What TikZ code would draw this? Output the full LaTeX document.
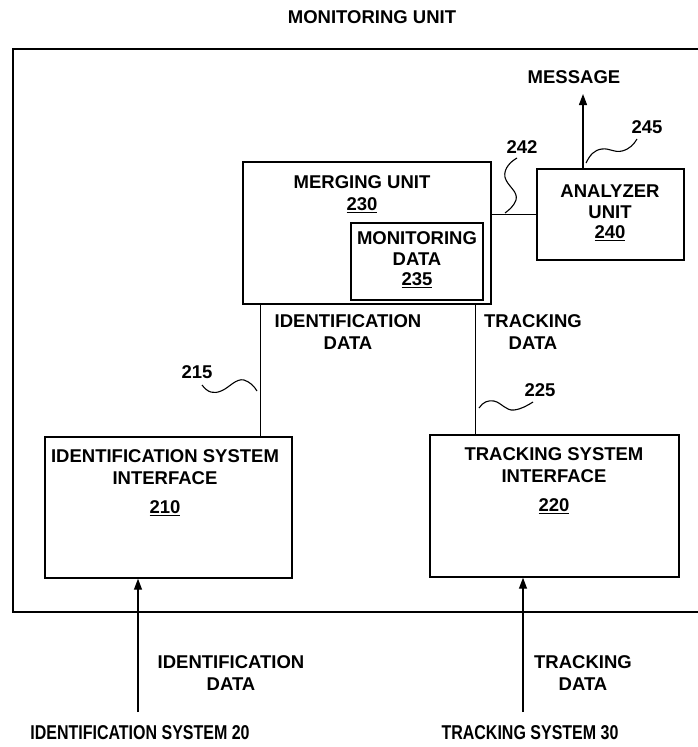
\documentclass[tikz,border=0pt]{standalone}
\usepackage{fontspec}
\setmainfont{Liberation Sans}
\newfontfamily\narrowsans[FakeStretch=0.8]{Liberation Sans}
\usetikzlibrary{arrows.meta}

\tikzset{
  block/.style={draw, line width=1.4pt, inner sep=0pt},
  lbl/.style={font=\bfseries\fontsize{18.5}{22}\selectfont, align=center, inner sep=1pt},
  narrowlbl/.style={lbl, font=\narrowsans\bfseries\fontsize{20}{24}\selectfont},
  link/.style={line width=1.3pt},
  leader/.style={line width=1.1pt},
  flow/.style={line width=1.3pt, -{Triangle[length=11pt,width=8pt]}},
}

\begin{document}
\begin{tikzpicture}[x=1pt, y=-1pt]
    \useasboundingbox (0,0) rectangle (698,747);

    % monitoring unit frame (open to the right)
    \node[lbl] (title) at (372,17) {MONITORING UNIT};
    \draw[line width=1.5pt] (698,49) -- (13,49) -- (13,612) -- (698,612);

    % merging unit with its monitoring data
    \node[block, minimum width=248pt, minimum height=142pt] (merge) at (367,233) {};
    \node[lbl] (mergetxt) at (362,194) {MERGING UNIT\\\underline{230}};
    \node[block, minimum width=132pt, minimum height=77pt] (mondata) at (417,261.5) {};
    \node[lbl, font=\bfseries\fontsize{18.5}{20.5}\selectfont] at (417,260) {MONITORING\\DATA\\\underline{235}};

    % analyzer unit
    \node[block, minimum width=147pt, minimum height=91pt] (analyzer) at (610.5,214.5) {};
    \node[lbl, font=\bfseries\fontsize{18.5}{20.5}\selectfont] at (610,213) {ANALYZER\\UNIT\\\underline{240}};
    \draw[link] (merge.east |- analyzer.west) -- (analyzer.west);

    % message out
    \node[lbl] (msg) at (574,77) {MESSAGE};
    \coordinate (msgtip) at (583,94);
    \draw[flow] (analyzer.north -| msgtip) -- (msgtip);

    % interfaces
    \node[block, minimum width=247pt, minimum height=141pt] (idif) at (168.5,507.5) {};
    \node[lbl] at (165,483) {IDENTIFICATION SYSTEM\\INTERFACE\\[7pt]\underline{210}};
    \node[block, minimum width=249pt, minimum height=142pt] (trif) at (554.5,506) {};
    \node[lbl] at (554,481) {TRACKING SYSTEM\\INTERFACE\\[7pt]\underline{220}};

    % interface to merging unit
    \draw[link] ([xshift=-32pt]idif.north east) coordinate (p215) -- (p215 |- merge.south);
    \draw[link] ([xshift=46pt]trif.north west) coordinate (p225) -- (p225 |- merge.south);
    \node[lbl] (iddata) at (348,332) {IDENTIFICATION\\DATA};
    \node[lbl] (trdata) at (533,332) {TRACKING\\DATA};

    % reference numerals
    \node[lbl] (n215) at (197,372) {215};
    \node[lbl] (n225) at (540,390) {225};
    \node[lbl] (n242) at (522,147) {242};
    \node[lbl] (n245) at (647,127) {245};
    \coordinate (w215) at (257,391);
    \coordinate (w225) at (479,408);
    \coordinate (w242) at (505,213);
    \coordinate (w245) at (586,163);
    \draw[leader] ([shift={(5,13)}]n215.center) .. controls (208,393) and (214,394) .. (221,391)
        .. controls (229,388) and (236,378) .. (244,380) .. controls (250,382) and (254,386) .. (w215);
    \draw[leader] (w225) .. controls (483,402) and (488,400) .. (494,401)
        .. controls (502,403) and (506,411) .. (514,410) .. controls (522,409) and (528,405) .. ([shift={(-7,12)}]n225.center);
    \draw[leader] ([shift={(-5,11)}]n242.center) .. controls (508,163) and (502,172) .. (506,180)
        .. controls (510,188) and (518,192) .. (516,200) .. controls (514,206) and (509,210) .. (w242);
    \draw[leader] (w245) .. controls (590,155) and (594,150) .. (602,149)
        .. controls (610,148) and (614,153) .. (622,151) .. controls (630,149) and (634,144) .. ([shift={(-10,12)}]n245.center);

    % external systems
    \coordinate (src20) at (138,712);
    \coordinate (src30) at (523,712);
    \draw[flow] (src20) -- (src20 |- idif.south);
    \draw[flow] (src30) -- (src30 |- trif.south);
    \node[lbl] (idin) at (231,673) {IDENTIFICATION\\DATA};
    \node[lbl] (trin) at (583,673) {TRACKING\\DATA};
    \node[narrowlbl] (sys20) at (140,733) {IDENTIFICATION SYSTEM 20};
    \node[narrowlbl] (sys30) at (530,733) {TRACKING SYSTEM 30};
\end{tikzpicture}
\end{document}
